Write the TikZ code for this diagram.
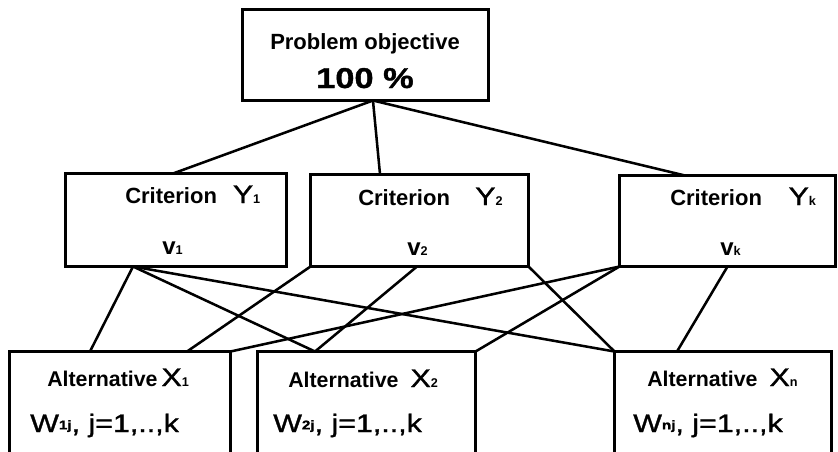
\documentclass[tikz,border=0pt]{standalone}
\usepackage{fontspec}
\setmainfont{Liberation Sans}
\newfontfamily\widefont[FakeStretch=1.2, FakeBold=1.2]{Liberation Sans}
\newcommand{\idx}[1]{{\fontsize{9.5}{10}\selectfont\bfseries #1}}
\newcommand{\crittxt}{\fontsize{16.5}{18}\selectfont\bfseries}
\newcommand{\bigsym}{\fontsize{19}{21}\selectfont\widefont\mdseries}
\newcommand{\wtxt}{\fontsize{19}{21}\selectfont\widefont}

\begin{document}
\begin{tikzpicture}[x=0.75pt,y=-0.75pt,
    box/.style={draw, line width=2.25pt, inner sep=0pt, outer sep=0pt},
    link/.style={line width=1.9pt},
    txt/.style={anchor=base west, inner sep=0pt}]
    \useasboundingbox (0,0) rectangle (838,451);
    \clip (0,0) rectangle (838,451);

    % Goal
    \node[box, minimum width=184.5pt, minimum height=68.25pt] (top) at (365.5,55) {};
    \node[txt, anchor=base] (goal) at (365,49) {\crittxt Problem objective};
    \node[txt, anchor=base] (share) at (365,88) {\fontsize{21.5}{24}\selectfont\widefont\bfseries 100 \%};

    % Criteria
    \node[box, minimum width=165.75pt, minimum height=69.75pt] (y1) at (176,220) {};
    \node[box, minimum width=163.5pt, minimum height=69pt] (y2) at (419.5,220.5) {};
    \node[box, minimum width=162pt, minimum height=68.25pt] (yk) at (727.5,221) {};

    \node[txt] (y1name) at (125,203) {\crittxt Criterion\hspace{12pt}{\bigsym Y}\idx{1}};
    \node[txt] (y1w) at (162,254) {\fontsize{18}{20}\selectfont\bfseries v\idx{1}};
    \node[txt] (y2name) at (358,205) {\crittxt Criterion\hspace{19pt}{\bigsym Y}\idx{2}};
    \node[txt] (y2w) at (407,255) {\fontsize{18}{20}\selectfont\bfseries v\idx{2}};
    \node[txt] (ykname) at (670,205) {\crittxt Criterion\hspace{20pt}{\bigsym Y}\idx{k}};
    \node[txt] (ykw) at (720,255) {\fontsize{18}{20}\selectfont\bfseries v\idx{k}};

    % Alternatives
    \node[box, minimum width=165.75pt, minimum height=105pt] (x1) at (120,421.5) {};
    \node[box, minimum width=163.5pt, minimum height=105pt] (x2) at (366.5,421.5) {};
    \node[box, minimum width=162.75pt, minimum height=105pt] (xn) at (723,421.5) {};

    \node[txt] (x1name) at (47,386) {\fontsize{16}{18}\selectfont\bfseries Alternative\hspace{3pt}{\bigsym X}\idx{1}};
    \node[txt] (x1w) at (30,432) {\wtxt W\raisebox{2pt}{\idx{1j}}, j=1,..,k};
    \node[txt] (x2name) at (288,387) {\fontsize{16}{18}\selectfont\bfseries Alternative\hspace{9pt}{\bigsym X}\idx{2}};
    \node[txt] (x2w) at (273,432) {\wtxt W\raisebox{2pt}{\idx{2j}}, j=1,..,k};
    \node[txt] (xnname) at (647,386) {\fontsize{16}{18}\selectfont\bfseries Alternative\hspace{9pt}{\bigsym X}\idx{n}};
    \node[txt] (xnw) at (633,432) {\wtxt W\raisebox{2pt}{\idx{nj}}, j=1,..,k};

    % Goal to criteria
    \draw[link] ([xshift=5.6pt]top.south) -- ([xshift=-2.25pt]y1.north);
    \draw[link] ([xshift=5.6pt]top.south) -- ([xshift=-29.6pt]y2.north);
    \draw[link] ([xshift=5.6pt]top.south) -- ([xshift=-31.9pt]yk.north);

    % Criteria to alternatives
    \draw[link] ([xshift=-32.25pt]y1.south) -- ([xshift=-22.5pt]x1.north);
    \draw[link] ([xshift=-32.25pt]y1.south) -- ([xshift=-38.6pt]x2.north);
    \draw[link] ([xshift=-32.25pt]y1.south) -- (xn.north west);
    \draw[link] (y2.south west) -- ([xshift=50.25pt]x1.north);
    \draw[link] ([xshift=-1.9pt]y2.south) -- ([xshift=-38.6pt]x2.north);
    \draw[link] (y2.south east) -- (xn.north west);
    \draw[link] (yk.south west) -- (x1.north east);
    \draw[link] (yk.south west) -- (x2.north east);
    \draw[link] (yk.south) -- ([xshift=-34.5pt]xn.north);
\end{tikzpicture}
\end{document}
